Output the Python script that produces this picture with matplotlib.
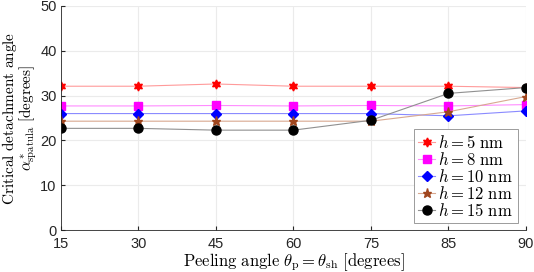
import numpy as np
import matplotlib
matplotlib.use('Agg')
import matplotlib.pyplot as plt

plt.rcParams['mathtext.fontset'] = 'cm'
plt.rcParams['font.family'] = ['Liberation Sans', 'DejaVu Sans']

# peeling angles (plotted as equally spaced categories)
angles = [15, 30, 45, 60, 75, 85, 90]

# critical detachment angle for each thickness h
alpha_h5 = [32.1, 32.1, 32.6, 32.1, 32.1, 32.1, 31.8]
alpha_h8 = [27.7, 27.7, 27.8, 27.7, 27.8, 27.7, 28.0]
alpha_h10 = [26.0, 26.0, 26.0, 26.0, 26.0, 25.5, 26.6]
alpha_h12 = [24.3, 24.3, 24.3, 24.3, 24.3, 26.4, 29.8]
alpha_h15 = [22.7, 22.7, 22.3, 22.3, 24.5, 30.5, 31.8]

labels = [r'$h = 5\ \mathrm{nm}$', r'$h = 8\ \mathrm{nm}$', r'$h = 10\ \mathrm{nm}$',
          r'$h = 12\ \mathrm{nm}$', r'$h = 15\ \mathrm{nm}$']

fig = plt.figure(figsize=(5.34, 2.72), dpi=100)
ax = fig.add_axes([0.114, 0.154, 0.871, 0.824])

x = np.arange(len(angles))
series = [alpha_h5, alpha_h8, alpha_h10, alpha_h12, alpha_h15]
colors = ['#ff0000', '#ff00ff', '#0000ff', '#a0461e', '#000000']
lcolors = ['#ff9a9a', '#ff8cff', '#8a8aff', '#d8a890', '#909090']
markers = [(6, 1, 0), 's', 'D', '*', 'o']
msizes = [6.5, 5.5, 5.5, 6.5, 6.5]

for s, c, lc, m, ms, lab in zip(series, colors, lcolors, markers, msizes, labels):
    ax.plot(x, s, color=lc, lw=0.8, marker=m, ms=ms, mfc=c, mec=c, label=lab)

ax.set_xlim(0, len(angles) - 1)
ax.set_ylim(0, 50)
ax.set_xticks(x)
ax.set_xticklabels([str(a) for a in angles])
ax.set_yticks([0, 10, 20, 30, 40, 50])
ax.grid(True, color='#ebebeb', lw=0.8)
ax.set_axisbelow(True)
ax.tick_params(direction='in', labelsize=10.5, colors='#262626', length=3, pad=5)
ax.tick_params(axis='y', pad=3)
for sp in ['top', 'right']:
    ax.spines[sp].set_visible(False)
for sp in ['left', 'bottom']:
    ax.spines[sp].set_color('#262626')
    ax.spines[sp].set_linewidth(0.6)

ax.set_xlabel(r'$\mathrm{Peeling\ angle}\ \theta_\mathrm{p} = \theta_\mathrm{sh}\ \mathrm{[degrees]}$',
              fontsize=12, labelpad=0)
ax.set_ylabel('$\\mathrm{Critical\\ detachment\\ angle}$\n'
              '$\\alpha^*_\\mathrm{spatula}\\ \\mathrm{[degrees]}$',
              fontsize=11, linespacing=0.9)
ax.yaxis.set_label_coords(-0.046, 0.5)

leg = ax.legend(loc='lower right', bbox_to_anchor=(0.982, 0.03), fontsize=12,
                fancybox=False, edgecolor='#8c8c8c', framealpha=1,
                handlelength=1.0, handletextpad=0.2, borderpad=0.28,
                labelspacing=0.0, borderaxespad=0)
leg.get_frame().set_linewidth(0.6)

fig.savefig('out.png', dpi=100)
